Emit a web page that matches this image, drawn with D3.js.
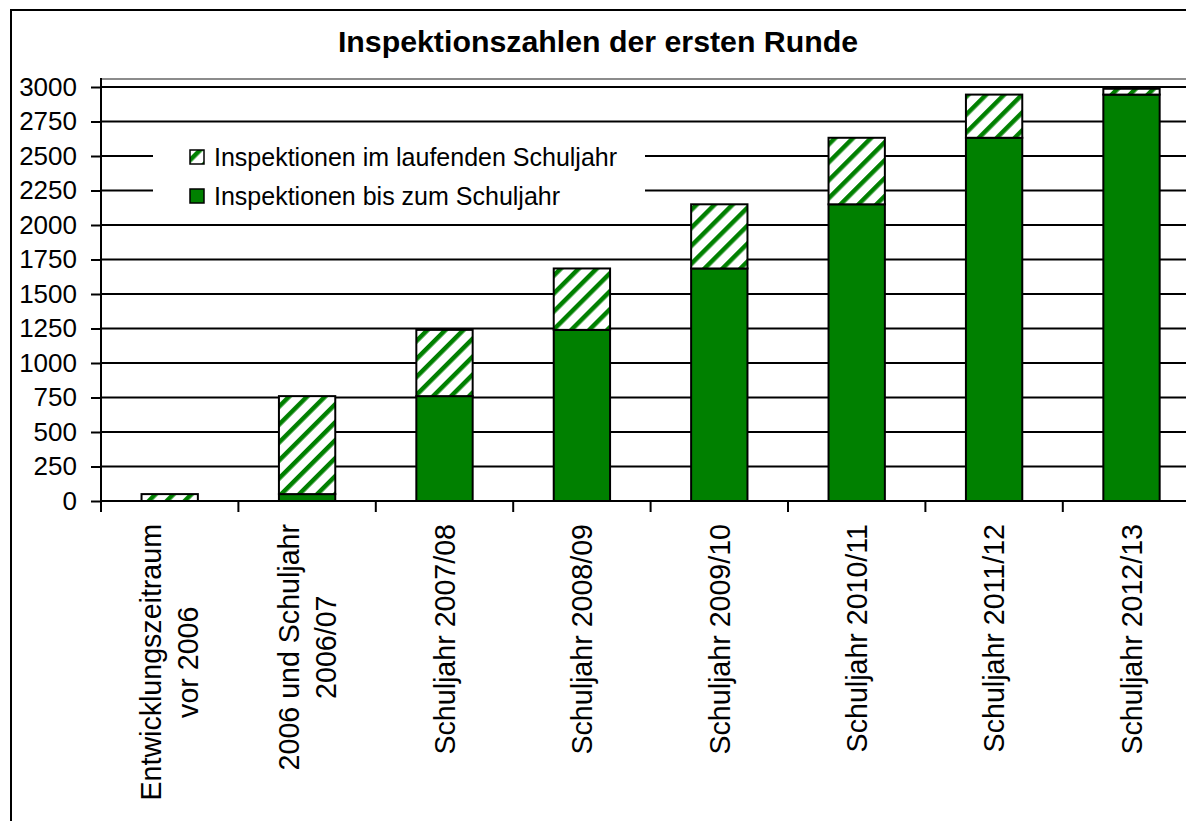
<!DOCTYPE html>
<html>
<head>
<meta charset="utf-8">
<script src="https://cdn.jsdelivr.net/npm/d3@7"></script>
<style>
body { margin: 0; background: #fff; }
svg { display: block; font-family: Arial, "Liberation Sans", sans-serif; }
</style>
</head>
<body>
<svg id="drawing_region"></svg>
<script>
// values
const categories = [
    "Entwicklungszeitraum\nvor 2006",
    "2006 und Schuljahr\n2006/07",
    "Schuljahr 2007/08",
    "Schuljahr 2008/09",
    "Schuljahr 2009/10",
    "Schuljahr 2010/11",
    "Schuljahr 2011/12",
    "Schuljahr 2012/13"
];
const bisZumSchuljahr      = [0, 50, 760, 1240, 1685, 2150, 2632, 2945];
const imLaufendenSchuljahr = [50, 710, 480, 445, 465, 482, 313, 42];
const yTicks = [0, 250, 500, 750, 1000, 1250, 1500, 1750, 2000, 2250, 2500, 2750, 3000];
const seriesNames = {
    lauf: "Inspektionen im laufenden Schuljahr",
    bis: "Inspektionen bis zum Schuljahr"
};
const chartTitle = "Inspektionszahlen der ersten Runde";

const table = categories.map( (c, i) => ({
    cat: c, bis: bisZumSchuljahr[i], lauf: imLaufendenSchuljahr[i]
}));

class StackedBar {

    constructor( config, data ) {
        this.config = {
            parent: config.parent,
            width: config.width || 1186,
            height: config.height || 821,
            margin: config.margin || {top:87, right:0, bottom:320, left:101}
        }
        this.data = data;
        this.init();
    }

    init() {
        let self = this;

        self.svg = d3.select( self.config.parent )
            .attr('width', self.config.width)
            .attr('height', self.config.height);

        const defs = self.svg.append('defs');
        const pat = defs.append('pattern')
            .attr('id', 'hatch')
            .attr('patternUnits', 'userSpaceOnUse')
            .attr('width', 12.7)
            .attr('height', 12.7)
            .attr('patternTransform', 'rotate(45)');
        pat.append('rect')
            .attr('width', 12.7).attr('height', 12.7).attr('fill', '#fff');
        pat.append('rect')
            .attr('width', 4.5).attr('height', 12.7).attr('fill', '#008000');

        // outer frame
        self.svg.append('rect')
            .attr('x', 11).attr('y', 10)
            .attr('width', self.config.width + 20)
            .attr('height', self.config.height + 20)
            .attr('fill', 'none')
            .attr('stroke', '#000')
            .attr('stroke-width', 2);

        self.chart = self.svg.append('g');

        self.xscale = d3.scaleBand()
            .domain( self.data.map( d => d.cat ) )
            .range( [self.config.margin.left, self.config.margin.left + 8 * 137.4] )
            .padding(0);

        self.yscale = d3.scaleLinear()
            .domain( [0, 3000] )
            .range( [501, self.config.margin.top] );
    }

    update() {
        let self = this;

        self.stacked = d3.stack().keys(['bis', 'lauf'])( self.data );
        self.render();
    }

    render() {
        let self = this;
        const x = self.xscale, y = self.yscale;
        const left = self.config.margin.left;
        const right = x.range()[1];
        const plotTop = 79;

        // plot area top border
        self.chart.append('line')
            .attr('x1', left).attr('x2', right)
            .attr('y1', plotTop).attr('y2', plotTop)
            .attr('stroke', '#8c8c8c').attr('stroke-width', 2);

        // gridlines
        self.chart.selectAll('.grid')
            .data( yTicks.filter( t => t > 0 ) )
            .join('line')
            .attr('class', 'grid')
            .attr('x1', left).attr('x2', right)
            .attr('y1', d => y(d)).attr('y2', d => y(d))
            .attr('stroke', '#000').attr('stroke-width', 2);

        // legend (white box over the gridlines)
        const legend = self.chart.append('g');
        legend.append('rect')
            .attr('x', 153).attr('y', 133)
            .attr('width', 492).attr('height', 84)
            .attr('fill', '#fff');
        const items = [
            {key: 'lauf', fill: 'url(#hatch)', y: 157},
            {key: 'bis', fill: '#008000', y: 196}
        ];
        const li = legend.selectAll('.item')
            .data(items)
            .join('g')
            .attr('transform', d => `translate(190, ${d.y})`);
        li.append('rect')
            .attr('x', 0).attr('y', -7)
            .attr('width', 14).attr('height', 14)
            .attr('fill', d => d.fill)
            .attr('stroke', '#000').attr('stroke-width', 1.5);
        li.append('text')
            .attr('x', 24).attr('y', 0).attr('dy', '0.36em')
            .attr('font-size', '25px')
            .text( d => seriesNames[d.key] );

        // bars
        const barW = x.bandwidth() * 0.41;
        self.chart.selectAll('.layer')
            .data( self.stacked )
            .join('g')
            .attr('fill', d => d.key === 'bis' ? '#008000' : 'url(#hatch)')
            .selectAll('rect')
            .data( d => d.filter( s => s[1] - s[0] > 0 ) )
            .join('rect')
            .attr('x', d => x(d.data.cat) + (x.bandwidth() - barW) / 2)
            .attr('y', d => y(d[1]))
            .attr('width', barW)
            .attr('height', d => y(d[0]) - y(d[1]))
            .attr('stroke', '#000')
            .attr('stroke-width', 2);

        // y axis
        const yaxis = d3.axisLeft(y)
            .tickValues(yTicks)
            .tickFormat(d3.format('d'))
            .tickSize(10)
            .tickSizeOuter(0)
            .tickPadding(14);
        const yg = self.chart.append('g')
            .attr('transform', `translate(${left}, 0)`)
            .call(yaxis);
        yg.select('.domain').remove();
        yg.selectAll('line').attr('stroke', '#000').attr('stroke-width', 2);
        yg.selectAll('text')
            .attr('font-size', '26px')
            .attr('font-family', 'Arial, "Liberation Sans", sans-serif')
            .attr('fill', '#000');
        self.chart.append('line')
            .attr('x1', left).attr('x2', left)
            .attr('y1', plotTop - 1).attr('y2', y(0))
            .attr('stroke', '#000').attr('stroke-width', 2);

        // x axis
        self.chart.append('line')
            .attr('x1', left).attr('x2', right)
            .attr('y1', y(0)).attr('y2', y(0))
            .attr('stroke', '#000').attr('stroke-width', 2);
        const edges = self.data.map( d => x(d.cat) ).concat([right]);
        self.chart.selectAll('.xtick')
            .data(edges)
            .join('line')
            .attr('x1', d => d).attr('x2', d => d)
            .attr('y1', y(0)).attr('y2', y(0) + 11)
            .attr('stroke', '#000').attr('stroke-width', 2);

        // rotated category labels
        const fs = 28.6, lineH = 37, labelTop = 524;
        self.chart.selectAll('.cat')
            .data( self.data )
            .join('text')
            .attr('class', 'cat')
            .attr('font-size', fs + 'px')
            .attr('text-anchor', 'middle')
            .attr('transform', d => `translate(${x(d.cat) + x.bandwidth() / 2}, ${labelTop}) rotate(-90)`)
            .each( function(d) {
                const lines = d.cat.split('\n');
                const t = d3.select(this);
                const spans = lines.map( (l, i) => t.append('tspan')
                    .attr('y', 0.36 * fs + (i - (lines.length - 1) / 2) * lineH)
                    .text(l) );
                const w = d3.max( spans, s => s.node().getComputedTextLength() );
                spans.forEach( s => s.attr('x', -w / 2) );
            });

        // title
        self.svg.append('text')
            .attr('x', 598)
            .attr('y', 52)
            .attr('font-size', '30.3px')
            .attr('font-weight', 700)
            .attr('text-anchor', 'middle')
            .text(chartTitle);
    }
}

const chart = new StackedBar( {parent: '#drawing_region', width: 1186, height: 821}, table );
chart.update();
</script>
</body>
</html>
